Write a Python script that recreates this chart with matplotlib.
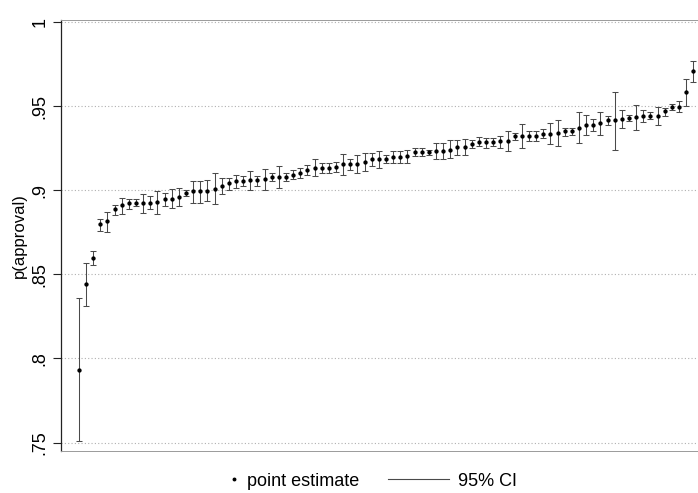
import matplotlib
matplotlib.use("Agg")
import matplotlib.pyplot as plt
import numpy as np

plt.rcParams['font.family'] = ['Liberation Sans', 'DejaVu Sans']

# point estimates, sorted, with 95% CI bounds
est = [0.793, 0.844, 0.860, 0.880, 0.882, 0.889, 0.8915, 0.8925, 0.8925, 0.8925,
       0.8925, 0.893, 0.8945, 0.895, 0.896, 0.8985, 0.8994, 0.8994, 0.8994, 0.9008,
       0.9028, 0.9044, 0.9054, 0.9054, 0.906, 0.906, 0.9068, 0.908, 0.908, 0.908,
       0.9093, 0.9104, 0.9123, 0.9133, 0.9133, 0.9133, 0.9137, 0.9157, 0.9157, 0.9157,
       0.9166, 0.9187, 0.9185, 0.9188, 0.9199, 0.9199, 0.9202, 0.9226, 0.9226, 0.9226,
       0.9232, 0.9232, 0.9242, 0.9256, 0.9258, 0.9276, 0.9287, 0.9287, 0.9287, 0.9291,
       0.9295, 0.932, 0.932, 0.932, 0.932, 0.9336, 0.9336, 0.934, 0.935, 0.935,
       0.937, 0.939, 0.939, 0.940, 0.9415, 0.9415, 0.9424, 0.943, 0.9436, 0.944,
       0.9444, 0.9444, 0.947, 0.9493, 0.9496, 0.9582, 0.9707]
ci_lo = [0.751, 0.831, 0.8555, 0.8757, 0.875, 0.885, 0.8856, 0.8886, 0.8905, 0.8866,
         0.8886, 0.8856, 0.8905, 0.8896, 0.8905, 0.8965, 0.8925, 0.8925, 0.8935, 0.8921,
         0.8975, 0.9004, 0.9014, 0.9024, 0.9004, 0.9024, 0.9004, 0.9054, 0.9014, 0.9054,
         0.9064, 0.9074, 0.9093, 0.9083, 0.9104, 0.9104, 0.9108, 0.9093, 0.9123, 0.9104,
         0.9113, 0.9143, 0.9133, 0.9163, 0.9163, 0.9163, 0.9163, 0.9202, 0.9202, 0.921,
         0.9183, 0.9183, 0.9193, 0.921, 0.921, 0.9252, 0.9261, 0.9252, 0.9262, 0.9252,
         0.9232, 0.9301, 0.9252, 0.929, 0.929, 0.9311, 0.9272, 0.9261, 0.932, 0.933,
         0.9282, 0.9331, 0.935, 0.9331, 0.939, 0.9242, 0.937, 0.941, 0.936, 0.9404,
         0.9424, 0.939, 0.9444, 0.9475, 0.9463, 0.9503, 0.9641]
ci_hi = [0.836, 0.857, 0.864, 0.883, 0.887, 0.8915, 0.8955, 0.8945, 0.8945, 0.898,
         0.8965, 0.8994, 0.8985, 0.9008, 0.9014, 0.9004, 0.9054, 0.9054, 0.906, 0.910,
         0.9074, 0.9074, 0.9093, 0.9083, 0.9113, 0.9083, 0.9127, 0.9104, 0.9143, 0.9104,
         0.9123, 0.9133, 0.9153, 0.9183, 0.9163, 0.9163, 0.9167, 0.9216, 0.9183, 0.921,
         0.9222, 0.9222, 0.9232, 0.921, 0.9232, 0.9232, 0.9242, 0.9252, 0.9252, 0.924,
         0.9282, 0.9282, 0.9297, 0.9301, 0.9305, 0.9301, 0.9317, 0.931, 0.931, 0.9325,
         0.935, 0.934, 0.9393, 0.935, 0.935, 0.9364, 0.940, 0.9419, 0.937, 0.9368,
         0.9463, 0.9449, 0.9425, 0.9463, 0.9443, 0.9586, 0.9479, 0.945, 0.9507, 0.9475,
         0.9465, 0.9497, 0.949, 0.951, 0.9529, 0.9661, 0.9766]

yticks = [0.75, 0.8, 0.85, 0.9, 0.95, 1.0]
ytick_labels = ['.75', '.8', '.85', '.9', '.95', '1']

W, H = 698, 493
fig = plt.figure(figsize=(W / 100, H / 100), dpi=100)
ax = fig.add_axes([61 / W, 1 - 451 / H, (699 - 61) / W, (451 - 20) / H])

x = np.arange(1, len(est) + 1)
est = np.array(est)
ci_lo = np.array(ci_lo)
ci_hi = np.array(ci_hi)

# CI with caps, then the point estimates on top
ax.errorbar(x, est, yerr=[est - ci_lo, ci_hi - est], fmt='none',
            ecolor='#4a4a4a', elinewidth=0.75, capsize=2.2, capthick=0.75, zorder=3)
ax.plot(x, est, 'o', color='black', markersize=2.1, zorder=4)

ax.set_xlim(-1.49, 87.8)
ax.set_ylim(0.7450, 1.0012)

ax.set_yticks(yticks)
ax.set_yticklabels(ytick_labels, rotation=90, va='center', fontsize=13)
ax.set_xticks([])
ax.tick_params(axis='y', length=6, width=0.8, pad=3, color='#222222')
ax.grid(True, axis='y', color='#b0b0b0', linestyle=(0, (1, 2)), linewidth=0.8)
ax.set_axisbelow(True)

ax.set_ylabel('p(approval)', fontsize=12)
ax.yaxis.set_label_coords(-0.054, 0.5)

for side in ['top', 'bottom']:
    ax.spines[side].set_color('#9a9a9a')
    ax.spines[side].set_linewidth(0.7)
ax.spines['left'].set_color('#222222')
ax.spines['left'].set_linewidth(0.9)
ax.spines['right'].set_visible(False)

# legend below the plot
h_pt, = ax.plot([], [], 'o', color='black', markersize=1.8)
h_ci, = ax.plot([], [], '-', color='#4a4a4a', linewidth=0.8)
leg1 = fig.legend([h_pt], ['point estimate'], loc='center left',
                  bbox_to_anchor=(229 / W, 1 - 481 / H), frameon=False,
                  handlelength=0.6, handletextpad=0.4, fontsize=13,
                  borderaxespad=0, borderpad=0)
leg2 = fig.legend([h_ci], ['95% CI'], loc='center left',
                  bbox_to_anchor=(388 / W, 1 - 481 / H), frameon=False,
                  handlelength=3.4, handletextpad=0.5, fontsize=13,
                  borderaxespad=0, borderpad=0)

fig.savefig('out.png', dpi=100)
